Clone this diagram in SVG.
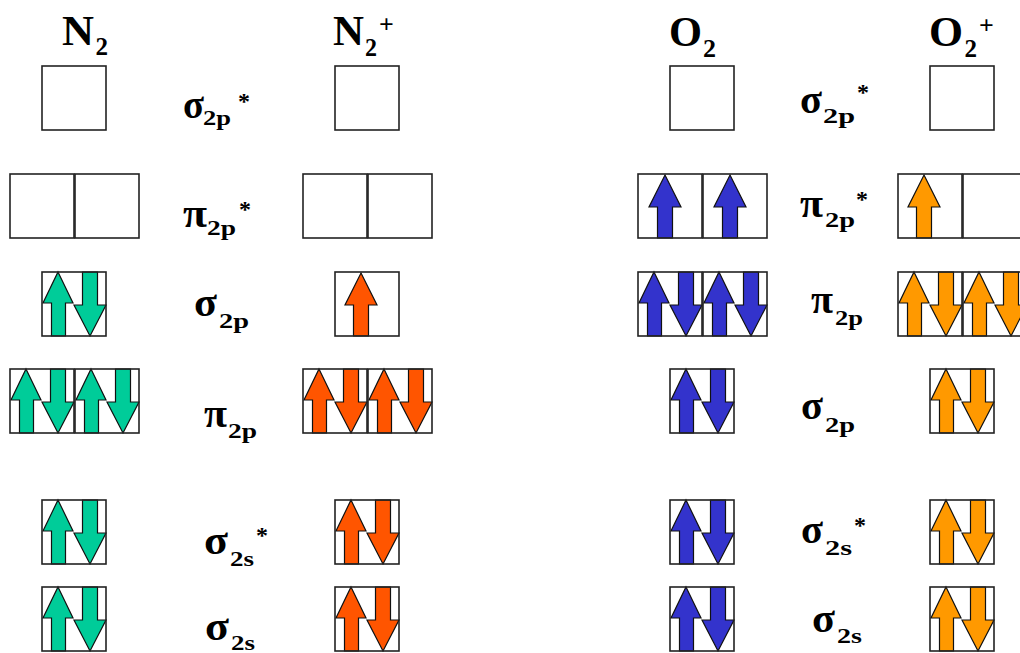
<svg xmlns="http://www.w3.org/2000/svg" width="1020" height="653" viewBox="0 0 1020 653">
<style>
  .box { fill: none; stroke: #222; stroke-width: 1.6; }
  .arr { stroke: #111; stroke-width: 1.2; stroke-linejoin: miter; }
  .g { fill: #00CC99; }
  .r { fill: #FF5500; }
  .b { fill: #3333CC; }
  .o { fill: #FF9900; }
  text { font-family: "Liberation Serif", "Times New Roman", serif; font-weight: bold; fill: #000; }
  .big { font-size: 40px; }
  .sub { font-size: 20px; }
  .star { font-size: 24px; }
  .title { font-size: 42px; }
  .tsub { font-size: 26px; }
</style>
<defs>
  <polygon id="up" class="arr" points="16,0 31,31 23.5,31 23.5,64 9.5,64 9.5,31 1,31"/>
  <polygon id="down" class="arr" points="40.5,0 55.5,0 55.5,33 64,33 48,64 32,33 40.5,33"/>
  <g id="pair"><use href="#up"/><use href="#down"/></g>
  <polygon id="one" class="arr" points="26,1 42,33 33.5,33 33.5,64 18.5,64 18.5,33 10,33"/>
  <rect id="sq" class="box" x="0" y="0" width="64" height="64"/>
</defs>

<!-- Titles -->
<g id="title-N2"><text class="title" x="62" y="44.5" textLength="32" lengthAdjust="spacingAndGlyphs">N</text><text class="tsub" x="95.5" y="55" textLength="12.5" lengthAdjust="spacingAndGlyphs">2</text></g>
<g id="title-N2plus"><text class="title" x="333" y="44.5" textLength="31" lengthAdjust="spacingAndGlyphs">N</text><text class="tsub" x="365" y="56" textLength="12" lengthAdjust="spacingAndGlyphs">2</text><text class="tsub" x="379" y="33">+</text></g>
<g id="title-O2"><text class="title" x="669" y="46" textLength="33" lengthAdjust="spacingAndGlyphs">O</text><text class="tsub" x="703" y="56.5" textLength="13" lengthAdjust="spacingAndGlyphs">2</text></g>
<g id="title-O2plus"><text class="title" x="929" y="46" textLength="34" lengthAdjust="spacingAndGlyphs">O</text><text class="tsub" x="964.5" y="56.5" textLength="12.5" lengthAdjust="spacingAndGlyphs">2</text><text class="tsub" x="979" y="34">+</text></g>

<!-- N2 column -->
<g id="N2">
  <g id="N2-s2pstar" transform="translate(42,66)"><use href="#sq"/></g>
  <g id="N2-p2pstar" transform="translate(10,174)"><use href="#sq"/><use href="#sq" x="65"/></g>
  <g id="N2-s2p" transform="translate(42,272)" class="g"><use href="#pair"/><use href="#sq"/></g>
  <g id="N2-p2p" transform="translate(10,369)" class="g"><use href="#pair"/><use href="#pair" x="65"/><use href="#sq"/><use href="#sq" x="65"/></g>
  <g id="N2-s2sstar" transform="translate(42,500)" class="g"><use href="#pair"/><use href="#sq"/></g>
  <g id="N2-s2s" transform="translate(42,587)" class="g"><use href="#pair"/><use href="#sq"/></g>
</g>

<!-- N2+ column -->
<g id="N2plus">
  <g id="N2plus-s2pstar" transform="translate(335,66)"><use href="#sq"/></g>
  <g id="N2plus-p2pstar" transform="translate(303,174)"><use href="#sq"/><use href="#sq" x="65"/></g>
  <g id="N2plus-s2p" transform="translate(335,272)" class="r"><use href="#one"/><use href="#sq"/></g>
  <g id="N2plus-p2p" transform="translate(303,369)" class="r"><use href="#pair"/><use href="#pair" x="65"/><use href="#sq"/><use href="#sq" x="65"/></g>
  <g id="N2plus-s2sstar" transform="translate(335,500)" class="r"><use href="#pair"/><use href="#sq"/></g>
  <g id="N2plus-s2s" transform="translate(335,587)" class="r"><use href="#pair"/><use href="#sq"/></g>
</g>

<!-- O2 column -->
<g id="O2">
  <g id="O2-s2pstar" transform="translate(670,66)"><use href="#sq"/></g>
  <g id="O2-p2pstar" transform="translate(638,174)" class="b"><use href="#one" x="1"/><use href="#one" x="66"/><use href="#sq"/><use href="#sq" x="65"/></g>
  <g id="O2-p2p" transform="translate(638,272)" class="b"><use href="#pair"/><use href="#pair" x="65"/><use href="#sq"/><use href="#sq" x="65"/></g>
  <g id="O2-s2p" transform="translate(670,369)" class="b"><use href="#pair"/><use href="#sq"/></g>
  <g id="O2-s2sstar" transform="translate(670,500)" class="b"><use href="#pair"/><use href="#sq"/></g>
  <g id="O2-s2s" transform="translate(670,587)" class="b"><use href="#pair"/><use href="#sq"/></g>
</g>

<!-- O2+ column -->
<g id="O2plus">
  <g id="O2plus-s2pstar" transform="translate(930,66)"><use href="#sq"/></g>
  <g id="O2plus-p2pstar" transform="translate(898,174)" class="o"><use href="#one"/><use href="#sq"/><use href="#sq" x="65"/></g>
  <g id="O2plus-p2p" transform="translate(898,272)" class="o"><use href="#pair"/><use href="#pair" x="65"/><use href="#sq"/><use href="#sq" x="65"/></g>
  <g id="O2plus-s2p" transform="translate(930,369)" class="o"><use href="#pair"/><use href="#sq"/></g>
  <g id="O2plus-s2sstar" transform="translate(930,500)" class="o"><use href="#pair"/><use href="#sq"/></g>
  <g id="O2plus-s2s" transform="translate(930,587)" class="o"><use href="#pair"/><use href="#sq"/></g>
</g>

<!-- Orbital labels, N side -->
<g id="labels-N">
  <g id="lbl-N-s2pstar"><text class="big" x="183" y="118" textLength="21" lengthAdjust="spacingAndGlyphs">σ</text><text class="sub" x="203" y="125" textLength="28" lengthAdjust="spacingAndGlyphs">2p</text><text class="star" x="238" y="109">*</text></g>
  <g id="lbl-N-p2pstar"><text class="big" x="183" y="226.5" textLength="24" lengthAdjust="spacingAndGlyphs">π</text><text class="sub" x="207" y="235" textLength="29" lengthAdjust="spacingAndGlyphs">2p</text><text class="star" x="239" y="217">*</text></g>
  <g id="lbl-N-s2p"><text class="big" x="194" y="316" textLength="23" lengthAdjust="spacingAndGlyphs">σ</text><text class="sub" x="219" y="328" textLength="30" lengthAdjust="spacingAndGlyphs">2p</text></g>
  <g id="lbl-N-p2p"><text class="big" x="204" y="426.5" textLength="23" lengthAdjust="spacingAndGlyphs">π</text><text class="sub" x="228" y="438" textLength="29" lengthAdjust="spacingAndGlyphs">2p</text></g>
  <g id="lbl-N-s2sstar"><text class="big" x="204" y="554" textLength="24" lengthAdjust="spacingAndGlyphs">σ</text><text class="sub" x="230" y="566" textLength="24" lengthAdjust="spacingAndGlyphs">2s</text><text class="star" x="256" y="543">*</text></g>
  <g id="lbl-N-s2s"><text class="big" x="205" y="640" textLength="24" lengthAdjust="spacingAndGlyphs">σ</text><text class="sub" x="231" y="650" textLength="24" lengthAdjust="spacingAndGlyphs">2s</text></g>
</g>

<!-- Orbital labels, O side -->
<g id="labels-O">
  <g id="lbl-O-s2pstar"><text class="big" x="800" y="113" textLength="22" lengthAdjust="spacingAndGlyphs">σ</text><text class="sub" x="823" y="123" textLength="32" lengthAdjust="spacingAndGlyphs">2p</text><text class="star" x="857" y="100">*</text></g>
  <g id="lbl-O-p2pstar"><text class="big" x="800" y="216.5" textLength="23" lengthAdjust="spacingAndGlyphs">π</text><text class="sub" x="825" y="226.5" textLength="30" lengthAdjust="spacingAndGlyphs">2p</text><text class="star" x="856" y="207">*</text></g>
  <g id="lbl-O-p2p"><text class="big" x="811" y="313" textLength="22" lengthAdjust="spacingAndGlyphs">π</text><text class="sub" x="835" y="325" textLength="28" lengthAdjust="spacingAndGlyphs">2p</text></g>
  <g id="lbl-O-s2p"><text class="big" x="801" y="419" textLength="22" lengthAdjust="spacingAndGlyphs">σ</text><text class="sub" x="825" y="431.5" textLength="30" lengthAdjust="spacingAndGlyphs">2p</text></g>
  <g id="lbl-O-s2sstar"><text class="big" x="801" y="543" textLength="22" lengthAdjust="spacingAndGlyphs">σ</text><text class="sub" x="825" y="555" textLength="27" lengthAdjust="spacingAndGlyphs">2s</text><text class="star" x="854" y="533">*</text></g>
  <g id="lbl-O-s2s"><text class="big" x="812" y="631.5" textLength="23" lengthAdjust="spacingAndGlyphs">σ</text><text class="sub" x="837" y="643" textLength="25" lengthAdjust="spacingAndGlyphs">2s</text></g>
</g>
</svg>
